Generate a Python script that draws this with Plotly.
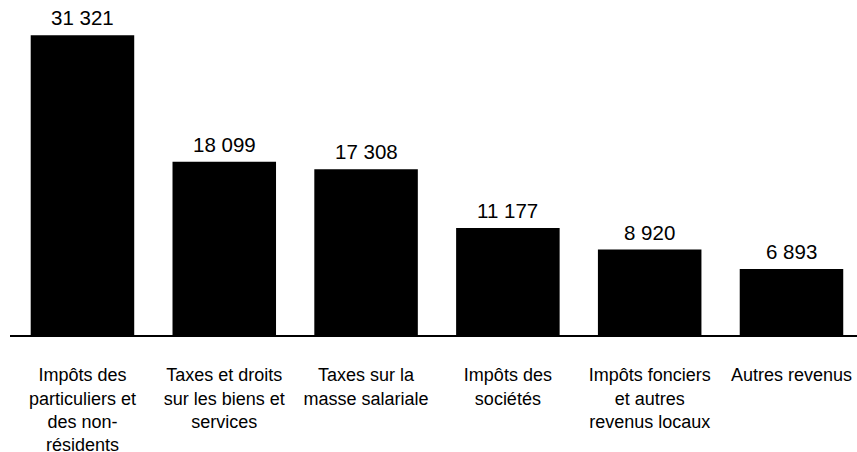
import plotly.graph_objects as go

categories = [
    "Impôts des<br>particuliers et<br>des non-<br>résidents",
    "Taxes et droits<br>sur les biens et<br>services",
    "Taxes sur la<br>masse salariale",
    "Impôts des<br>sociétés",
    "Impôts fonciers<br>et autres<br>revenus locaux",
    "Autres revenus",
]
values = [31321, 18099, 17308, 11177, 8920, 6893]
value_labels = [f"{v:,}".replace(",", " ") for v in values]

FONT = "Arial, Liberation Sans, sans-serif"

fig = go.Figure()
fig.add_trace(go.Bar(
    x=categories,
    y=values,
    width=0.73,
    marker=dict(color="#000000", line=dict(width=0)),
    hoverinfo="skip",
    cliponaxis=False,
))

for c, v, t in zip(categories, values, value_labels):
    fig.add_annotation(
        x=c, y=v, text=t, showarrow=False,
        xref="x", yref="y", yanchor="bottom", yshift=4,
        font=dict(family=FONT, size=20.5, color="#000000"),
    )

fig.update_layout(
    width=857, height=452,
    margin=dict(l=10, r=0, t=0, b=117, autoexpand=False),
    plot_bgcolor="white", paper_bgcolor="white",
    showlegend=False,
    font=dict(family=FONT, color="#000000"),
    xaxis=dict(
        type="category",
        range=[-0.511, 5.462],
        automargin=False,
        showline=True, linecolor="#000000", linewidth=1.5,
        ticks="outside", ticklen=23, tickcolor="rgba(0,0,0,0)",
        tickfont=dict(family=FONT, size=18, color="#000000"),
        showgrid=False, zeroline=False, fixedrange=True,
    ),
    yaxis=dict(
        range=[0, 35000],
        visible=False, showgrid=False, zeroline=False, automargin=False,
    ),
)

fig.write_html(
    "out.html",
    config={"displayModeBar": False, "staticPlot": True},
    post_script="document.body.style.margin='0';document.body.style.overflow='hidden';",
)
